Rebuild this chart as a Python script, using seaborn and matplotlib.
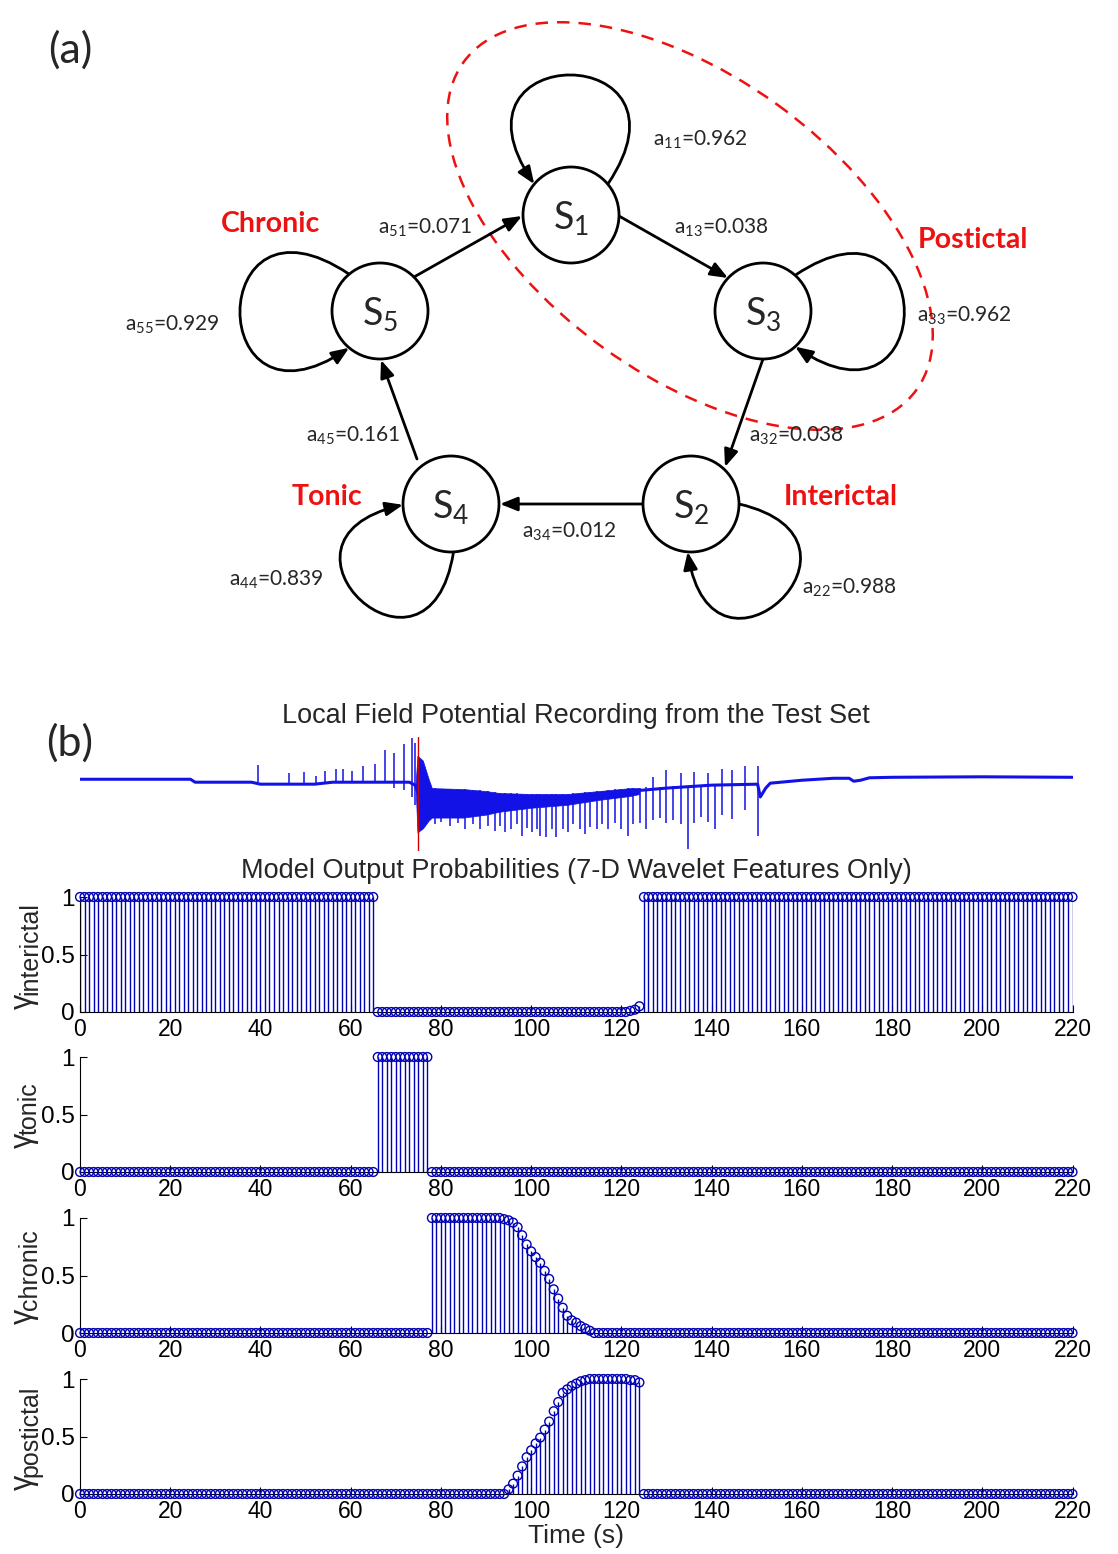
import numpy as np
import matplotlib
matplotlib.use("Agg")
import matplotlib.pyplot as plt
import seaborn as sns
from matplotlib.patches import Circle, Ellipse, FancyArrowPatch
from matplotlib.path import Path

# ======================= DATA =======================
# ---- panel (a): 5-state HMM ----
state_ids = [1, 2, 3, 4, 5]
self_loop_states = [1, 5, 3, 4, 2]
self_loop_probs = [0.962, 0.929, 0.962, 0.839, 0.988]
edge_from = [5, 1, 3, 2, 4]
edge_to = [1, 3, 2, 4, 5]
edge_index = ["51", "13", "32", "34", "45"]
edge_probs = [0.071, 0.038, 0.038, 0.012, 0.161]
class_names = ["Chronic", "Postictal", "Tonic", "Interictal"]

# ---- panel (b): LFP recording (arbitrary units) ----
lfp_t = [0, 24.5, 25.5, 38, 40, 52, 56, 73, 74.3, 75.0, 78, 85, 95, 100, 110, 120,
         130, 140, 150.2, 150.8, 152.0, 153.0, 160, 167, 170.5, 171.5, 173, 175, 180, 200, 220]
lfp_v = [0.0, 0.0, -0.3, -0.3, -0.5, -0.5, -0.3, -0.3, -0.6, -1.5, -2.3, -2.4, -2.2, -2.1, -1.8, -1.3,
         -0.9, -0.6, -0.5, -1.8, -0.9, -0.4, -0.1, 0.1, 0.1, -0.2, -0.1, 0.15, 0.2, 0.25, 0.2]
band_t = [74.4, 74.8, 76.0, 77.3, 78.0, 85, 90, 93, 100, 108, 115, 122, 124]
band_lo = [-0.8, -5.4, -5.0, -4.2, -3.9, -3.9, -3.6, -3.3, -2.9, -2.6, -2.1, -1.7, -1.5]
band_hi = [-0.4, 2.4, 1.9, 0.0, -0.9, -1.0, -1.2, -1.4, -1.5, -1.5, -1.2, -0.9, -0.9]
spike_t = [39.4, 46.4, 49.7, 52.3, 54.3, 56.8, 58.2, 60.4, 62.8, 65.3, 67.6, 69.6, 71.9, 73.7, 74.3,
           78.6, 80.1, 82.0, 83.8, 85.3, 87.2, 88.6, 90.5, 92.0, 93.0, 94.2, 95.6, 96.8, 97.9, 99.0,
           100.1, 101.2, 102.0, 103.4, 104.6, 105.6, 107.1, 108.2, 109.3, 110.8, 111.9, 113.0, 114.5,
           115.6, 117.0, 118.5, 120.0, 121.5, 122.6, 124.1, 125.5, 127.0, 128.5, 130.0, 131.4, 133.2,
           134.8, 136.0, 137.7, 139.2, 140.7, 142.4, 144.6, 147.4, 150.3]
spike_top = [1.5, 0.6, 0.7, 0.3, 0.8, 1.0, 1.0, 0.8, 1.3, 1.6, 3.0, 2.7, 3.6, 4.2, 3.7,
             -0.9, -1.0, -1.0, -1.0, -1.0, -1.1, -1.1, -1.2, -1.3, -1.4, -1.4, -1.4, -1.4, -1.5, -1.5,
             -1.5, -1.5, -1.5, -1.5, -1.5, -1.5, -1.5, -1.5, -1.4, -1.4, -1.3, -1.3, -1.2,
             -1.2, -1.1, -1.0, -1.0, -0.9, -0.9, -0.9, -0.8, 0.2, -0.8, 0.9, -0.7, 0.6,
             -0.7, 0.7, -0.6, 0.6, -0.6, 1.0, 0.9, 1.4, 1.4]
spike_bot = [-0.3, -0.5, -0.5, -0.5, -0.4, -0.3, -0.3, -0.3, -0.3, -0.3, -0.3, -0.9, -1.1, -1.8, -2.6,
             -4.6, -4.3, -4.8, -4.4, -5.1, -4.6, -5.1, -4.8, -5.3, -4.8, -5.4, -5.1, -4.6, -5.8, -5.0,
             -5.4, -5.1, -5.8, -5.9, -5.1, -5.9, -5.1, -5.4, -4.6, -5.1, -5.6, -4.9, -5.1,
             -4.6, -5.1, -4.4, -5.1, -5.8, -4.6, -4.4, -5.1, -4.1, -3.9, -4.4, -4.1, -4.6,
             -7.1, -4.4, -3.8, -4.3, -5.1, -3.6, -4.0, -3.1, -5.8]
onset_t = 75.0

# ---- panel (b): model output probabilities (1 s steps, 0..220 s) ----
time_s = np.arange(0, 221)
gamma_interictal = [1.0] * 66 + [0.0] * 56 + [0.01, 0.02, 0.05] + [1.0] * 96
gamma_tonic = [0.0] * 66 + [1.0] * 12 + [0.0] * 143
gamma_chronic = ([0.0] * 78 + [1.0] * 16 +
                 [0.99, 0.98, 0.96, 0.92, 0.85, 0.77, 0.71, 0.66, 0.61, 0.54,
                  0.47, 0.38, 0.30, 0.22, 0.15, 0.11, 0.09, 0.06, 0.04, 0.02] +
                 [0.0] * 107)
gamma_postictal = ([0.0] * 95 +
                   [0.04, 0.09, 0.16, 0.24, 0.32, 0.38, 0.44, 0.49, 0.56, 0.63,
                    0.72, 0.80, 0.88, 0.91, 0.94, 0.96, 0.98, 0.99] +
                   [1.0] * 9 + [0.99, 0.99, 0.97] +
                   [0.0] * 96)
gamma_names = ["interictal", "tonic", "chronic", "postictal"]
x_ticks = [0, 20, 40, 60, 80, 100, 120, 140, 160, 180, 200, 220]

# ======================= STYLE =======================
sns.set_style("ticks")
plt.rcParams["font.family"] = ["Liberation Sans", "DejaVu Sans"]
W, H = 1118, 1554
RED = "#ee1111"
LFP_BLUE = "#1212e6"
STEM = "#0000b4"
DFONT = ["Lato", "DejaVu Sans"]

fig = plt.figure(figsize=(W / 100, H / 100), dpi=100)

# ======================= PANEL (a) =======================
dax = fig.add_axes([0, 0, 1, 1])
dax.set_xlim(0, W)
dax.set_ylim(H, 0)
dax.axis("off")

R = 48
node_xy = {1: (571, 215), 2: (691, 504), 3: (763, 311), 4: (451, 504), 5: (380, 311)}
# outward angle, rotation sign, control length, half spread
loop_geom = {1: (-90, -1, 175, 50), 5: (180, -1, 175, 50), 3: (0, 1, 175, 48),
             2: (47, 1, 158, 47), 4: (133, 1, 158, 46)}
edge_pts = {(5, 1): ((414, 277), (522, 216)), (1, 3): ((619, 216), (728, 278)),
            (3, 2): ((763, 359), (725, 467)), (2, 4): ((643, 504), (500, 504)),
            (4, 5): ((417, 459), (381, 360))}
loop_label_xy = {1: (700, 140), 5: (172, 325), 3: (964, 316), 4: (276, 580), 2: (849, 588)}
edge_label_xy = {"51": (425, 228), "13": (721, 228), "32": (796, 436), "34": (569, 532), "45": (353, 436)}
class_xy = {"Chronic": (271, 224), "Postictal": (973, 240), "Tonic": (327, 497), "Interictal": (841, 497)}
ARROW = "-|>,head_length=0.7,head_width=0.28"

dax.add_patch(Ellipse((690, 226), 559, 299, angle=35.9, fill=False, ec=RED, lw=1.8,
                      ls=(0, (5, 3.6)), zorder=1))

for sid, p in zip(self_loop_states, self_loop_probs):
    cx, cy = node_xy[sid]
    theta, sign, k, delta = loop_geom[sid]
    th, d, b = np.deg2rad(theta), np.deg2rad(delta), np.deg2rad(34)
    a0, a1 = th - sign * d, th + sign * d
    p0 = (cx + R * np.cos(a0), cy + R * np.sin(a0))
    p3 = (cx + R * np.cos(a1), cy + R * np.sin(a1))
    p1 = (p0[0] + k * np.cos(th - sign * b), p0[1] + k * np.sin(th - sign * b))
    p2 = (p3[0] + k * np.cos(th + sign * b), p3[1] + k * np.sin(th + sign * b))
    path = Path([p0, p1, p2, p3], [Path.MOVETO, Path.CURVE4, Path.CURVE4, Path.CURVE4])
    dax.add_patch(FancyArrowPatch(path=path, arrowstyle=ARROW, mutation_scale=15,
                                  lw=2.0, color="black", zorder=2))
    lx, ly = loop_label_xy[sid]
    dax.text(lx, ly, f"a$_{{\\mathregular{{{sid}{sid}}}}}$={p:.3f}", family=DFONT,
             fontsize=15, ha="center", va="center")

for f, t, idx, p in zip(edge_from, edge_to, edge_index, edge_probs):
    (x0, y0), (x1, y1) = edge_pts[(f, t)]
    dax.add_patch(FancyArrowPatch((x0, y0), (x1, y1), arrowstyle=ARROW, mutation_scale=15,
                                  shrinkA=0, shrinkB=0, lw=2.0, color="black", zorder=2))
    lx, ly = edge_label_xy[idx]
    dax.text(lx, ly, f"a$_{{\\mathregular{{{idx}}}}}$={p:.3f}", family=DFONT,
             fontsize=15, ha="center", va="center", zorder=4)

for sid in state_ids:
    x, y = node_xy[sid]
    dax.add_patch(Circle((x, y), R, fc="white", ec="black", lw=2.0, zorder=3))
    dax.text(x, y + 3, f"$\\mathregular{{S_{sid}}}$", family=DFONT, fontsize=27,
             ha="center", va="center", zorder=4)

for name in class_names:
    x, y = class_xy[name]
    dax.text(x, y, name, family=DFONT, fontsize=20.5, fontweight="bold", color=RED,
             ha="center", va="center")

dax.text(70, 50, "(a)", family=DFONT, fontsize=31, ha="center", va="center")
dax.text(70, 743, "(b)", family=DFONT, fontsize=31, ha="center", va="center")

# ======================= PANEL (b) =======================
X0, XW = 80 / W, 992.5 / W

ax_lfp = fig.add_axes([X0, 1 - 851 / H, XW, 114 / H])
ax_lfp.fill_between(band_t, band_lo, band_hi, color=LFP_BLUE, lw=0.5)
sns.lineplot(x=lfp_t, y=lfp_v, ax=ax_lfp, color=LFP_BLUE, lw=2.2, estimator=None, sort=False)
ax_lfp.vlines(spike_t, spike_bot, spike_top, color=LFP_BLUE, lw=1.1)
ax_lfp.axvline(onset_t, color="#d00000", lw=1.0)
ax_lfp.set_xlim(0, 220)
ax_lfp.set_ylim(-7.3, 4.3)
ax_lfp.axis("off")
ax_lfp.set_title("Local Field Potential Recording from the Test Set", fontsize=19.5, pad=10)

series = [gamma_interictal, gamma_tonic, gamma_chronic, gamma_postictal]
tops = [897, 1057, 1218, 1379]
renderer = fig.canvas.get_renderer()
for i, (vals, name, top) in enumerate(zip(series, gamma_names, tops)):
    ax = fig.add_axes([X0, 1 - (top + 115) / H, XW, 115 / H])
    ax.set_facecolor("none")
    ax.vlines(time_s, 0, vals, color=STEM, lw=1.0, zorder=2)
    sns.scatterplot(x=time_s, y=vals, ax=ax, marker="o", s=40, color=STEM,
                    facecolors="none", edgecolor=STEM, linewidth=1.0, clip_on=False, zorder=3)
    ax.set_xlim(0, 220)
    ax.set_ylim(0, 1)
    ax.set_xticks(x_ticks)
    ax.set_xticklabels([str(v) for v in x_ticks])
    ax.set_yticks([0, 0.5, 1])
    ax.set_yticklabels(["0", "0.5", "1"])
    ax.tick_params(direction="in", length=5, width=0.8, pad=4, colors="black")
    ax.tick_params(axis="x", labelsize=16.5)
    ax.tick_params(axis="y", labelsize=17.5)
    for s in ["top", "right"]:
        ax.spines[s].set_visible(False)
    for s in ["left", "bottom"]:
        ax.spines[s].set_color("black")
        ax.spines[s].set_linewidth(0.8)
    if i == 0:
        ax.set_title("Model Output Probabilities (7-D Wavelet Features Only)", fontsize=19.5, pad=14)
    if i == 3:
        ax.set_xlabel("Time (s)", fontsize=19, labelpad=1)
    # y label: gamma with subscript
    g = fig.text(0, 0, "\u03b3", fontsize=22, rotation=90, ha="center", va="bottom")
    sb = fig.text(0, 0, name, fontsize=18, rotation=90, ha="center", va="bottom")
    gh = g.get_window_extent(renderer).height
    sh = sb.get_window_extent(renderer).height
    cy = H - (top + 57.5)
    y0 = cy - (gh + sh) / 2
    g.set_position((24 / W, y0 / H))
    sb.set_position((30 / W, (y0 + gh - 2) / H))

fig.savefig("out.png", dpi=100)
